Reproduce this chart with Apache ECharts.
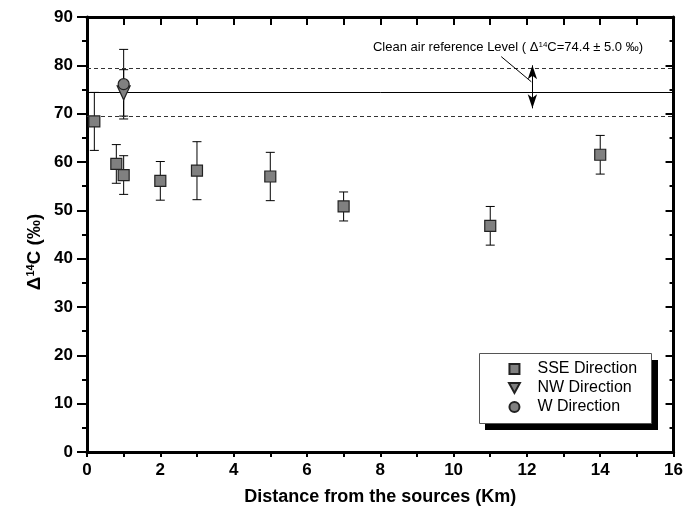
<!DOCTYPE html>
<html><head><meta charset="utf-8">
<script src="https://cdn.jsdelivr.net/npm/echarts@6/dist/echarts.min.js"></script>
<style>html,body{margin:0;padding:0;background:#fff}#c{width:686px;height:520px}</style>
</head><body><div id="c"></div>
<script>
// ---- data ----
const sseX   = [0.2, 0.8, 1.0, 2, 3, 5, 7, 11, 14];
const sseY   = [68.4, 59.6, 57.3, 56.1, 58.2, 57.0, 50.8, 46.8, 61.5];
const sseErr = [6.0, 4.0, 4.0, 4.0, 6.0, 5.0, 3.0, 4.0, 4.0];
const nwX    = [1.0];
const nwY    = [74.3];
const nwErr  = [4.8];
const wX     = [1.0];
const wY     = [76.1];
const wErr   = [7.2];
const refLevel = 74.4;
const refUnc   = 5.0;
const xRange = [0, 16];
const yRange = [0, 90];
const seriesNames = ['SSE Direction', 'NW Direction', 'W Direction'];
// annotation anchor (data coords)
const arrowX = 12.15;
const arrowTop = 80.0;
const arrowBottom = 71.1;
const leaderFrom = [11.3, 81.8];
const leaderTo = [12.12, 76.6];

const FONT = 'Liberation Sans, Arial, sans-serif';
const zip = (xs, ys) => xs.map((x, i) => [x, ys[i]]);
const errData = (xs, ys, es) => xs.map((x, i) => [x, ys[i] - es[i], ys[i] + es[i]]);

const errSeries = (data) => ({
  type: 'custom', silent: true, z: 2,
  data: data,
  renderItem: function (params, api) {
    const x = api.value(0), lo = api.value(1), hi = api.value(2);
    const pLo = api.coord([x, lo]), pHi = api.coord([x, hi]);
    const w = 4.5;
    const st = { stroke: '#000', lineWidth: 1 };
    return { type: 'group', children: [
      { type: 'line', shape: { x1: pHi[0], y1: pHi[1], x2: pLo[0], y2: pLo[1] }, style: st },
      { type: 'line', shape: { x1: pHi[0] - w, y1: pHi[1], x2: pHi[0] + w, y2: pHi[1] }, style: st },
      { type: 'line', shape: { x1: pLo[0] - w, y1: pLo[1], x2: pLo[0] + w, y2: pLo[1] }, style: st }
    ]};
  }
});

const markerStyle = { color: '#808080', borderColor: '#222', borderWidth: 1.2, opacity: 1 };
const axisLine = { show: true, onZero: false, lineStyle: { color: '#000', width: 3 } };

const chart = echarts.init(document.getElementById('c'), null, { renderer: 'canvas' });
chart.setOption({
  animation: false,
  backgroundColor: '#fff',
  grid: { left: 87, right: 12, top: 17, bottom: 68 },
  xAxis: [
    { type: 'value', min: xRange[0], max: xRange[1], interval: 2, position: 'bottom',
      axisLine: axisLine,
      axisTick: { show: true, inside: false, length: 5, lineStyle: { color: '#000', width: 2 } },
      minorTick: { show: true, splitNumber: 2, length: 5, lineStyle: { color: '#000', width: 2 } },
      splitLine: { show: false },
      axisLabel: { fontFamily: FONT, fontWeight: 'bold', fontSize: 17, color: '#000', margin: 10 },
      name: 'Distance from the sources (Km)', nameLocation: 'middle', nameGap: 36,
      nameTextStyle: { fontFamily: FONT, fontWeight: 'bold', fontSize: 18, color: '#000' }
    },
    { type: 'value', min: xRange[0], max: xRange[1], interval: 1, position: 'top',
      axisLine: axisLine,
      axisTick: { show: true, inside: true, length: 8, lineStyle: { color: '#000', width: 2 } },
      axisLabel: { show: false }, splitLine: { show: false }
    }
  ],
  yAxis: [
    { type: 'value', min: yRange[0], max: yRange[1], interval: 10, position: 'left',
      axisLine: axisLine,
      axisTick: { show: true, inside: false, length: 10, lineStyle: { color: '#000', width: 2 } },
      minorTick: { show: true, splitNumber: 2, length: 5, lineStyle: { color: '#000', width: 2 } },
      splitLine: { show: false },
      axisLabel: { fontFamily: FONT, fontWeight: 'bold', fontSize: 17, color: '#000', margin: 14 }
    },
    { type: 'value', min: yRange[0], max: yRange[1], interval: 10, position: 'right',
      axisLine: axisLine,
      axisTick: { show: true, inside: true, length: 8, lineStyle: { color: '#000', width: 2 } },
      minorTick: { show: true, splitNumber: 2, length: 4, lineStyle: { color: '#000', width: 2 } },
      axisLabel: { show: false }, splitLine: { show: false }
    }
  ],
  legend: {
    data: [
      { name: seriesNames[0], icon: 'path://M0,0H10V10H0Z' },
      { name: seriesNames[1], icon: 'path://M0,0H12L6,11Z' },
      { name: seriesNames[2], icon: 'path://M5,0A5,5 0 1 1 5,10A5,5 0 1 1 5,0Z' }
    ],
    orient: 'vertical', left: 508, top: 361, z: 10,
    padding: 0, symbolKeepAspect: true,
    itemWidth: 36, itemHeight: 10, itemGap: 3,
    textStyle: { fontFamily: FONT, fontSize: 16, color: '#000', lineHeight: 16 },
    selectedMode: false
  },
  graphic: [
    { type: 'rect', z: 5, silent: true, shape: { x: 485, y: 360, width: 173, height: 70 }, style: { fill: '#000' } },
    { type: 'rect', z: 6, silent: true, shape: { x: 479.5, y: 353.5, width: 172, height: 70 }, style: { fill: '#fff', stroke: '#555', lineWidth: 1 } },
    { type: 'text', x: 643, y: 47, z: 100,
      style: { text: 'Clean air reference Level ( \u0394{sup|14}C=74.4 \u00B1 5.0 \u2030)',
        align: 'right', verticalAlign: 'middle', fontFamily: FONT, fontSize: 13, fill: '#000',
        rich: { sup: { fontFamily: FONT, fontSize: 8, fill: '#000', verticalAlign: 'top', padding: [0, 0, 5, 0] } } } },
    { type: 'text', x: 35, y: 252, rotation: Math.PI / 2, z: 100,
      style: { text: '\u0394{sup|14}C (\u2030)', align: 'center', verticalAlign: 'middle',
        fontFamily: FONT, fontSize: 19, fontWeight: 'bold', fill: '#000',
        rich: { sup: { fontFamily: FONT, fontSize: 11, fontWeight: 'bold', fill: '#000', verticalAlign: 'top', padding: [0, 0, 8, 0] } } } }
  ],
  series: [
    { type: 'line', data: [], silent: true, z: 1, xAxisIndex: 0, yAxisIndex: 0,
      markLine: {
        silent: true, symbol: 'none', label: { show: false }, animation: false,
        data: [
          { yAxis: refLevel, lineStyle: { color: '#000', width: 1, type: 'solid' } },
          { yAxis: refLevel + refUnc, lineStyle: { color: '#333', width: 1, type: [4, 3] } },
          { yAxis: refLevel - refUnc, lineStyle: { color: '#333', width: 1, type: [4, 3] } },
          [ { coord: [arrowX, refLevel], symbol: 'none' },
            { coord: [arrowX, arrowTop], symbol: 'arrow', symbolSize: [7, 14], lineStyle: { color: '#000', width: 1, type: 'solid' } } ],
          [ { coord: [arrowX, refLevel], symbol: 'none' },
            { coord: [arrowX, arrowBottom], symbol: 'arrow', symbolSize: [7, 14], lineStyle: { color: '#000', width: 1, type: 'solid' } } ],
          [ { coord: leaderFrom, symbol: 'none' },
            { coord: leaderTo, symbol: 'none', lineStyle: { color: '#000', width: 1, type: 'solid' } } ]
        ]
      }
    },
    errSeries(errData(sseX, sseY, sseErr)),
    errSeries(errData(nwX, nwY, nwErr)),
    errSeries(errData(wX, wY, wErr)),
    { name: seriesNames[0], type: 'scatter', z: 5, symbol: 'rect', symbolSize: 11,
      itemStyle: markerStyle, data: zip(sseX, sseY) },
    { name: seriesNames[1], type: 'scatter', z: 5, symbol: 'triangle', symbolRotate: 180, symbolSize: [13, 14],
      itemStyle: markerStyle, data: zip(nwX, nwY) },
    { name: seriesNames[2], type: 'scatter', z: 6, symbol: 'circle', symbolSize: 11,
      itemStyle: markerStyle, data: zip(wX, wY) }
  ]
});
</script></body></html>
